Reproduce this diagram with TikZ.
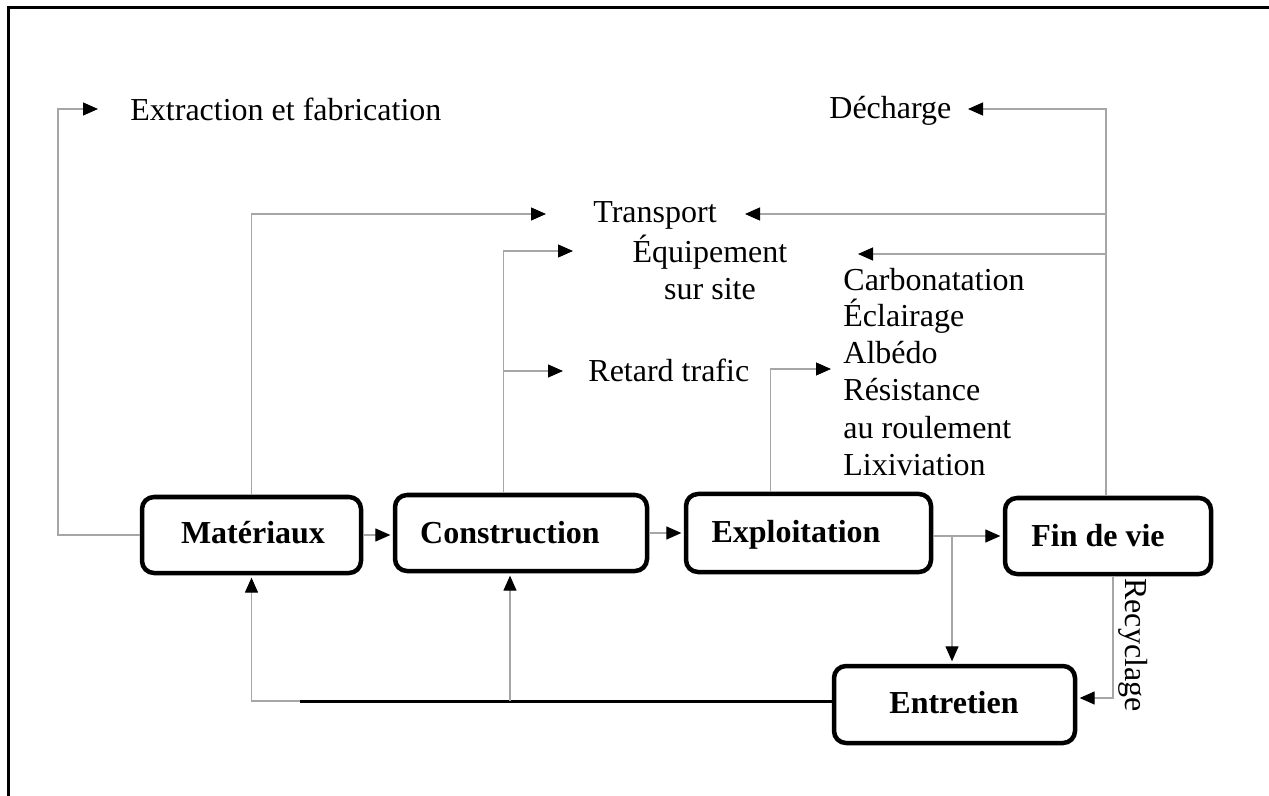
\documentclass[tikz,border=0pt]{standalone}
\usepackage{fontspec}
\setmainfont{Liberation Serif}
\usetikzlibrary{arrows.meta,fit,calc}
\definecolor{linkgrey}{RGB}{166,166,166}

\begin{document}
\begin{tikzpicture}[x=0.5pt,y=-0.5pt,
  box/.style={draw=black, line width=2.25pt, rounded corners=6pt, inner sep=0pt},
  lbl/.style={font=\fontsize{16}{18.5}\selectfont, inner sep=0pt},
  blbl/.style={inner sep=0pt, font=\fontsize{16}{18.5}\selectfont\bfseries},
  link/.style={draw=linkgrey, line width=0.6pt, -{Triangle[length=7.5pt,width=6.5pt,color=black]}},
  tobox/.style={shorten >=1.2pt},
  rule/.style={draw=black, line width=1.5pt},
]
\useasboundingbox (0,0) rectangle (1269,796);

% outer frame (open at right and bottom)
\draw[rule] (8,796) -- (8,8) -- (1269,8);

% life-cycle stages
\node[box, fit={(142,497) (361,573)}] (mat) {};
\node[box, fit={(395,495) (647,571)}] (con) {};
\node[box, fit={(686,494) (931,572)}] (exp) {};
\node[box, fit={(1005,498) (1211,574)}] (fin) {};
\node[box, fit={(834,666) (1075,743)}] (ent) {};

\node[blbl, anchor=base] (matT) at (253,544) {Matériaux};
\node[blbl, anchor=base] (conT) at (510,543) {Construction};
\node[blbl, anchor=base] (expT) at (796,542) {Exploitation};
\node[blbl, anchor=base] (finT) at (1098,546) {Fin de vie};
\node[blbl, anchor=base] (entT) at (954,713) {Entretien};

% impact labels (multi-line nodes sit on the baseline of their last line)
\node[lbl, anchor=base west] (ext) at (130,120.5) {Extraction et fabrication};
\node[lbl, anchor=base west] (dec) at (829,119) {Décharge};
\node[lbl, anchor=base west] (tra) at (593,223) {Transport};
\node[lbl, anchor=base, align=center] (equ) at (710,300) {Équipement\\sur site};
\node[lbl, anchor=base west] (ret) at (588,382) {Retard trafic};
\node[lbl, anchor=base west, align=left] (imp) at (843,475)
  {Carbonatation\\Éclairage\\Albédo\\Résistance\\au roulement\\Lixiviation};
\node[lbl, rotate=-90] (rec) at (1133,645) {Recyclage};

% arrow ends and routing points
\coordinate (extCorner) at (58,109);
\coordinate (extTip) at (98,109);
\coordinate (traTipL) at (546,214);
\coordinate (traTipR) at (745,214);
\coordinate (equTipL) at (573,251);
\coordinate (equTipR) at (858,254);
\coordinate (retTip) at (563,371);
\coordinate (albTip) at (831,369);
\coordinate (decTip) at (968,109);
\coordinate (conRise) at (503.6,371);
\coordinate (expRise) at (770.6,0);
\coordinate (finRise) at (1106,0);
\coordinate (recDrop) at (1113,0);
\coordinate (entSplit) at (952,536);
\coordinate (fbStart) at (300,701);
\coordinate (fbCon) at (510,701);

% main sequence
\draw[link, tobox] (mat.east) -- (mat.east -| con.west);
\draw[link, tobox] (con.east) -- (con.east -| exp.west);
\draw[link, tobox] (fin.west -| exp.east) -- (fin.west);

% flows towards the impact labels
\draw[link] (mat.west) -| (extCorner) -- (extTip);
\draw[link] (mat.north) |- (traTipL);
\draw[link] (con.north -| conRise) |- (equTipL);
\draw[link] (conRise) -- (retTip);
\draw[link] (exp.north -| expRise) |- (albTip);
\draw[link] (fin.north -| finRise) |- (equTipR);
\draw[link] (finRise |- equTipR) |- (decTip);
\draw[link] (finRise |- traTipR) -- (traTipR);

% maintenance loop
\draw[link, tobox] (entSplit) -- (entSplit |- ent.north);
\draw[link, tobox] (fin.south -| recDrop) |- ([yshift=3.25pt]ent.east);
\draw[rule] (ent.west |- fbStart) -- (fbStart);
\draw[link, tobox] (fbStart) -| (mat.south);
\draw[link, tobox] (fbCon) -- (fbCon |- con.south);
\end{tikzpicture}
\end{document}
